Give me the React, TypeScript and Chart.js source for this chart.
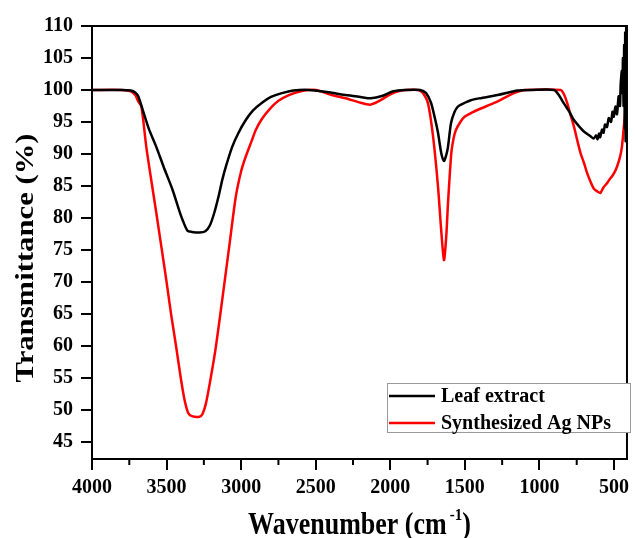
import React, { useEffect, useRef } from "react";
import { Chart, registerables } from "chart.js";

Chart.register(...registerables);

// Leaf extract spectrum (wavenumber, transmittance %)
const waveLeaf = [4000, 3800, 3740, 3710, 3690, 3660, 3620, 3569, 3520, 3460, 3420, 3393, 3360, 3330, 3280, 3240, 3210, 3180, 3150, 3127, 3100, 3060, 3020, 2969, 2920, 2860, 2800, 2727, 2650, 2550, 2400, 2300, 2200, 2130, 2050, 1980, 1900, 1800, 1760, 1727, 1700, 1680, 1658, 1640, 1625, 1613, 1593, 1570, 1547, 1500, 1460, 1400, 1280, 1147, 1050, 902, 870, 836, 800, 769, 730, 702, 660, 636, 620, 610, 600, 593, 580, 570, 560, 547, 535, 520, 510, 502, 490, 480, 469, 460, 455, 447, 443, 440, 436, 432, 428, 425, 422, 418, 415, 413];
const transLeaf = [100, 100, 99.9, 99.6, 99, 96.9, 94, 91.1, 88, 84.4, 81.5, 79.7, 78, 77.8, 77.7, 77.9, 78.8, 80.8, 83.5, 85.9, 88.2, 91.1, 93.2, 95.3, 96.8, 98, 98.9, 99.5, 99.9, 100, 99.6, 99.2, 98.9, 98.7, 99.1, 99.8, 100, 100, 99.5, 98, 95.5, 93.3, 90.1, 88.9, 89.8, 91.1, 94.8, 96.5, 97.4, 98, 98.4, 98.7, 99.2, 99.9, 100, 100, 99.2, 97.9, 96.6, 95.3, 94.2, 93.5, 92.8, 92.4, 92.9, 92.3, 93.2, 92.6, 93.8, 93.3, 94.6, 94.2, 95.6, 95.0, 96.6, 95.8, 97.4, 96.2, 99, 97.5, 101, 103, 99.5, 105, 97.5, 107, 94, 109, 92, 110.5, 93, 108];

// Synthesized Ag NPs spectrum
const waveAg = [4000, 3800, 3740, 3710, 3690, 3669, 3636, 3600, 3569, 3535, 3502, 3470, 3436, 3405, 3380, 3355, 3330, 3280, 3260, 3236, 3200, 3169, 3124, 3080, 3036, 3000, 2969, 2930, 2902, 2860, 2813, 2750, 2680, 2600, 2500, 2393, 2300, 2200, 2135, 2080, 2000, 1947, 1900, 1813, 1780, 1747, 1713, 1680, 1660, 1640, 1625, 1613, 1591, 1575, 1560, 1530, 1502, 1450, 1393, 1330, 1280, 1200, 1147, 1102, 858, 835, 813, 790, 769, 745, 724, 700, 680, 660, 636, 610, 591, 570, 547, 530, 513, 495, 480, 460, 447, 435, 424, 413];
const transAg = [100, 100, 99.8, 99.2, 98.2, 97.4, 91.1, 85.5, 80.8, 75.5, 70.3, 65, 59.9, 55, 51.6, 49.5, 49, 48.9, 49.3, 51, 55.5, 59.9, 67.7, 75.5, 83.3, 87.3, 89.6, 92, 93.75, 95.5, 96.9, 98.3, 99.2, 99.8, 100, 99.2, 98.7, 98, 97.7, 98.2, 99.3, 99.8, 100, 100, 99.5, 97.9, 92.7, 84.9, 78.5, 73.4, 77, 82.3, 90.1, 92.5, 93.75, 95, 95.8, 96.5, 97.1, 97.7, 98.2, 99.2, 99.7, 100, 100, 99.3, 97.9, 96, 94.3, 92, 90.1, 88.5, 87, 85.8, 84.6, 84.1, 83.9, 84.8, 85.4, 86, 86.5, 87.2, 88, 89.5, 91.1, 94, 96.9, 101];

const xMajorTicks = [4000, 3500, 3000, 2500, 2000, 1500, 1000, 500];
const xMinorTicks = [3750, 3250, 2750, 2250, 1750, 1250, 750];
const yTicks = [45, 50, 55, 60, 65, 70, 75, 80, 85, 90, 95, 100, 105, 110];

const seriesNames = ["Leaf extract", "Synthesized Ag NPs"];
const seriesColors = ["#000000", "#ff0000"];

const FONT = '"Liberation Serif", "Times New Roman", serif';

export default function App() {
  const ref = useRef<HTMLCanvasElement | null>(null);

  useEffect(() => {
    document.body.style.margin = "0";
    const canvas = ref.current;
    if (!canvas) return;

    const decor = {
      id: "decor",
      afterDraw(chart: any) {
        const ctx = chart.ctx;
        const a = chart.chartArea;
        const xs = chart.scales.x;
        ctx.save();
        // frame
        ctx.strokeStyle = "#000";
        ctx.lineWidth = 2;
        ctx.strokeRect(a.left, a.top, a.right - a.left, a.bottom - a.top);
        // minor ticks
        ctx.beginPath();
        xMinorTicks.forEach((v) => {
          const px = xs.getPixelForValue(v);
          ctx.moveTo(px, a.bottom);
          ctx.lineTo(px, a.bottom + 6);
        });
        ctx.stroke();

        // legend
        const lx = 387, ly = 383, lw = 244, lh = 50;
        ctx.fillStyle = "#fff";
        ctx.fillRect(lx, ly, lw, lh);
        ctx.strokeStyle = "#9a9a9a";
        ctx.lineWidth = 1;
        ctx.strokeRect(lx + 0.5, ly + 0.5, lw - 1, lh - 1);
        const rows = [396, 423];
        ctx.font = `bold 20px ${FONT}`;
        ctx.textBaseline = "middle";
        ctx.textAlign = "left";
        rows.forEach((ry, i) => {
          ctx.strokeStyle = seriesColors[i];
          ctx.lineWidth = 2.5;
          ctx.beginPath();
          ctx.moveTo(389, ry);
          ctx.lineTo(435, ry);
          ctx.stroke();
          ctx.fillStyle = "#000";
          ctx.fillText(seriesNames[i], 441, ry + 1);
        });

        // y title
        ctx.save();
        ctx.translate(26, 258);
        ctx.rotate(-Math.PI / 2);
        ctx.scale(1.18, 1);
        ctx.font = `bold 26px ${FONT}`;
        ctx.fillStyle = "#000";
        ctx.textAlign = "center";
        ctx.textBaseline = "middle";
        ctx.fillText("Transmittance (%)", 0, 0);
        ctx.restore();

        // x title with superscript
        ctx.save();
        ctx.translate(0, 534);
        ctx.scale(1, 1.18);
        ctx.fillStyle = "#000";
        ctx.textBaseline = "alphabetic";
        ctx.textAlign = "left";
        const mainFont = `bold 26px ${FONT}`;
        const supFont = `bold 15px ${FONT}`;
        const p1 = "Wavenumber (cm";
        const p2 = "-1";
        const p3 = ")";
        ctx.font = mainFont;
        const w1 = ctx.measureText(p1).width;
        const w3 = ctx.measureText(p3).width;
        ctx.font = supFont;
        const w2 = ctx.measureText(p2).width;
        const total = w1 + 3 + w2 + w3;
        let x0 = (a.left + a.right) / 2 - total / 2;
        ctx.font = mainFont;
        ctx.fillText(p1, x0, 0);
        x0 += w1 + 3;
        ctx.font = supFont;
        ctx.fillText(p2, x0, -12);
        x0 += w2;
        ctx.font = mainFont;
        ctx.fillText(p3, x0, 0);
        ctx.restore();

        ctx.restore();
      },
    };

    const chart = new Chart(canvas, {
      type: "line",
      data: {
        datasets: [
          {
            label: seriesNames[0],
            data: waveLeaf.map((x, i) => ({ x, y: transLeaf[i] })),
            borderColor: seriesColors[0],
            borderWidth: 2.5,
            pointRadius: 0,
            tension: 0.25,
            fill: false,
          },
          {
            label: seriesNames[1],
            data: waveAg.map((x, i) => ({ x, y: transAg[i] })),
            borderColor: seriesColors[1],
            borderWidth: 2.5,
            pointRadius: 0,
            tension: 0.25,
            fill: false,
          },
        ],
      },
      options: {
        animation: false,
        responsive: false,
        devicePixelRatio: 1,
        layout: { padding: { top: 26, right: 0, left: 0, bottom: 0 } },
        plugins: {
          legend: { display: false },
          tooltip: { enabled: false },
        },
        scales: {
          x: {
            type: "linear",
            reverse: true,
            min: 413,
            max: 4000,
            afterBuildTicks: (s: any) => {
              s.ticks = xMajorTicks.map((v) => ({ value: v }));
            },
            afterFit: (s: any) => {
              s.height = 79;
            },
            border: { display: true, color: "#000", width: 2 },
            grid: { drawOnChartArea: false, drawTicks: true, tickLength: 11, color: "#000", lineWidth: 2 },
            ticks: {
              color: "#000",
              font: { family: FONT, size: 20, weight: "bold" },
              padding: 6,
              maxRotation: 0,
              autoSkip: false,
              callback: (v: any) => String(v),
            },
          },
          y: {
            type: "linear",
            min: 42.3,
            max: 110,
            afterBuildTicks: (s: any) => {
              s.ticks = yTicks.map((v) => ({ value: v }));
            },
            afterFit: (s: any) => {
              s.width = 92;
            },
            border: { display: true, color: "#000", width: 2 },
            grid: { drawOnChartArea: false, drawTicks: true, tickLength: 11, color: "#000", lineWidth: 2 },
            ticks: {
              color: "#000",
              font: { family: FONT, size: 20, weight: "bold" },
              padding: 8,
              autoSkip: false,
              callback: (v: any) => String(v),
            },
          },
        },
      },
      plugins: [decor],
    });

    return () => chart.destroy();
  }, []);

  return (
    <div style={{ width: 635, height: 538 }}>
      <canvas ref={ref} width={635} height={538} />
    </div>
  );
}
